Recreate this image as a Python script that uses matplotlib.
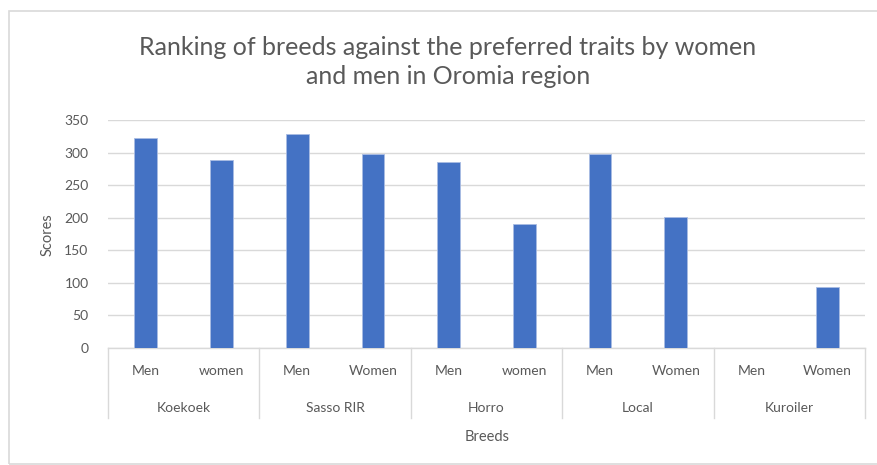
import numpy as np
import matplotlib.pyplot as plt
from matplotlib.patches import Rectangle

# scores per breed, split by respondent group
breeds = ["Koekoek", "Sasso RIR", "Horro", "Local", "Kuroiler"]
sex_labels = ["Men", "women", "Men", "Women", "Men", "women", "Men", "Women", "Men", "Women"]
scores = [323, 288, 329, 298, 285, 191, 298, 201, 0, 94]
yticks = [0, 50, 100, 150, 200, 250, 300, 350]

plt.rcParams['font.family'] = ['Lato', 'DejaVu Sans']
grey = '#595959'
W, H = 877, 465

fig = plt.figure(figsize=(W / 100, H / 100), dpi=100)
fig.patches.append(Rectangle((9 / W, 1 - 464 / H), 1.1, (464 - 11) / H,
                             transform=fig.transFigure, fill=False,
                             edgecolor='#d9d9d9', linewidth=1.2))

ax = fig.add_axes([108 / W, 1 - 348 / H, (865 - 108) / W, (348 - 120) / H])
x = np.arange(len(scores))
ax.bar(x, scores, width=0.3, color='#4472c4', edgecolor='#a9bce3', linewidth=0.6, zorder=3)

ax.set_xlim(-0.5, len(scores) - 0.5)
ax.set_ylim(0, 350)
ax.set_yticks(yticks)
ax.tick_params(axis='y', length=0, labelsize=10, labelcolor=grey, pad=14)
ax.set_xticks([])
ax.grid(axis='y', color='#d9d9d9', linewidth=1, zorder=0)
for s in ax.spines.values():
    s.set_visible(False)

# two-tier category axis
tr = ax.get_xaxis_transform()
ax.plot([-0.5, len(scores) - 0.5], [0, 0], transform=tr, color='#d9d9d9', lw=1, clip_on=False)
for b in range(len(breeds) + 1):
    xb = 2 * b - 0.5
    ax.plot([xb, xb], [0, -(418 - 348) / 228], transform=tr, color='#d9d9d9', lw=1, clip_on=False)
for i, lab in enumerate(sex_labels):
    ax.text(x[i], -(371 - 348) / 228, lab, transform=tr, ha='center', va='center',
            fontsize=10, color=grey)
for b, name in enumerate(breeds):
    ax.text(2 * b + 0.5, -(408 - 348) / 228, name, transform=tr, ha='center', va='center',
            fontsize=10, color=grey)

fig.text(487 / W, 1 - 437 / H, 'Breeds', ha='center', va='center', fontsize=10.5, color=grey)
fig.text(48 / W, 1 - 235 / H, 'Scores', ha='center', va='center', rotation=90,
         fontsize=10.5, color=grey)
fig.text(448 / W, 1 - 62 / H,
         'Ranking of breeds against the preferred traits by women\nand men in Oromia region',
         ha='center', va='center', fontsize=18, color=grey, linespacing=1.3)

fig.savefig('out.png', dpi=100)
